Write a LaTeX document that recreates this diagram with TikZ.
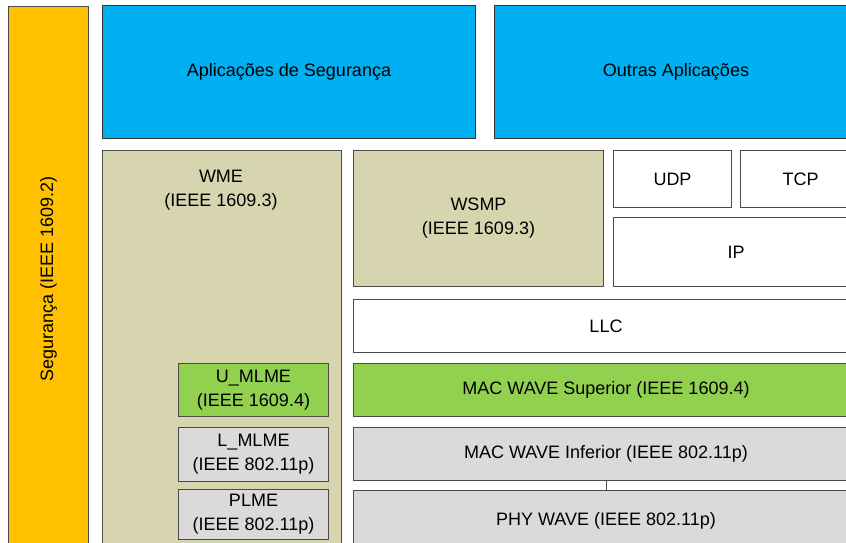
\documentclass[tikz,border=0pt]{standalone}
\usepackage{fontspec}
\setmainfont{Liberation Sans}
\definecolor{secyellow}{HTML}{FFC000}
\definecolor{appblue}{HTML}{00B0F0}
\definecolor{khaki}{HTML}{D6D5B0}
\definecolor{wavegreen}{HTML}{92D050}
\definecolor{lgray}{HTML}{DADADA}
\definecolor{edge}{HTML}{4A4A4A}
\begin{document}
\begin{tikzpicture}[x=1pt,y=-1pt,
  layer/.style={draw=edge, line width=1pt, inner sep=0pt, anchor=north west,
    align=center, font=\fontsize{18}{24}\selectfont, text=black},
  lbl/.style={inner sep=0pt, align=center, font=\fontsize{18}{24}\selectfont, text=black},
  conn/.style={draw=edge, line width=1pt}]
\useasboundingbox (0,0) rectangle (846,542);
\clip (0,0) rectangle (846,542);
% security bar
\node[layer, fill=secyellow, minimum width=80pt, minimum height=545pt] (seg) at (8,6) {};
\node[lbl, rotate=90] (segt) at (seg.center) {Segurança (IEEE 1609.2)};
% applications
\node[layer, fill=appblue, draw=black!80, minimum width=373pt, minimum height=133pt] (apseg) at (102,5) {Aplicações de Segurança};
\node[layer, fill=appblue, draw=black!80, minimum width=363pt, minimum height=133pt] (aout) at (494,5) {Outras Aplicações};
% WME
\node[layer, fill=khaki, minimum width=239pt, minimum height=400pt] (wme) at (102,150) {};
\node[lbl] (wmet) at (221,190) {WME\\(IEEE 1609.3)};
% WSMP
\node[layer, fill=khaki, minimum width=250pt, minimum height=136pt] (wsmp) at (353,150) {WSMP\\(IEEE 1609.3)};
% UDP TCP IP
\node[layer, fill=white, minimum width=118pt, minimum height=57pt] (udp) at (613,150) {UDP};
\node[layer, fill=white, minimum width=120pt, minimum height=57pt] (tcp) at (740,150) {TCP};
\node[layer, fill=white, minimum width=245pt, minimum height=69pt] (ip) at (613,217) {IP};
% LLC
\node[layer, fill=white, minimum width=505pt, minimum height=53pt] (llc) at (353,299) {LLC};
% MAC / PHY
\node[layer, fill=wavegreen, minimum width=505pt, minimum height=53pt] (macsup) at (353,363) {MAC WAVE Superior (IEEE 1609.4)};
\node[layer, fill=lgray, minimum width=505pt, minimum height=53pt] (macinf) at (353,427) {MAC WAVE Inferior (IEEE 802.11p)};
\node[layer, fill=lgray, minimum width=505pt, minimum height=60pt] (phy) at (353,490) {PHY WAVE (IEEE 802.11p)};
\draw[conn] (macinf.south) -- (phy.north);
% MLME boxes
\node[layer, fill=wavegreen, minimum width=150pt, minimum height=53pt] (umlme) at (178,363) {U\_MLME\\(IEEE 1609.4)};
\node[layer, fill=lgray, minimum width=150pt, minimum height=54pt] (lmlme) at (178,427) {L\_MLME\\(IEEE 802.11p)};
\node[layer, fill=lgray, minimum width=150pt, minimum height=50pt] (plme) at (178,489) {PLME\\(IEEE 802.11p)};
\end{tikzpicture}
\end{document}
